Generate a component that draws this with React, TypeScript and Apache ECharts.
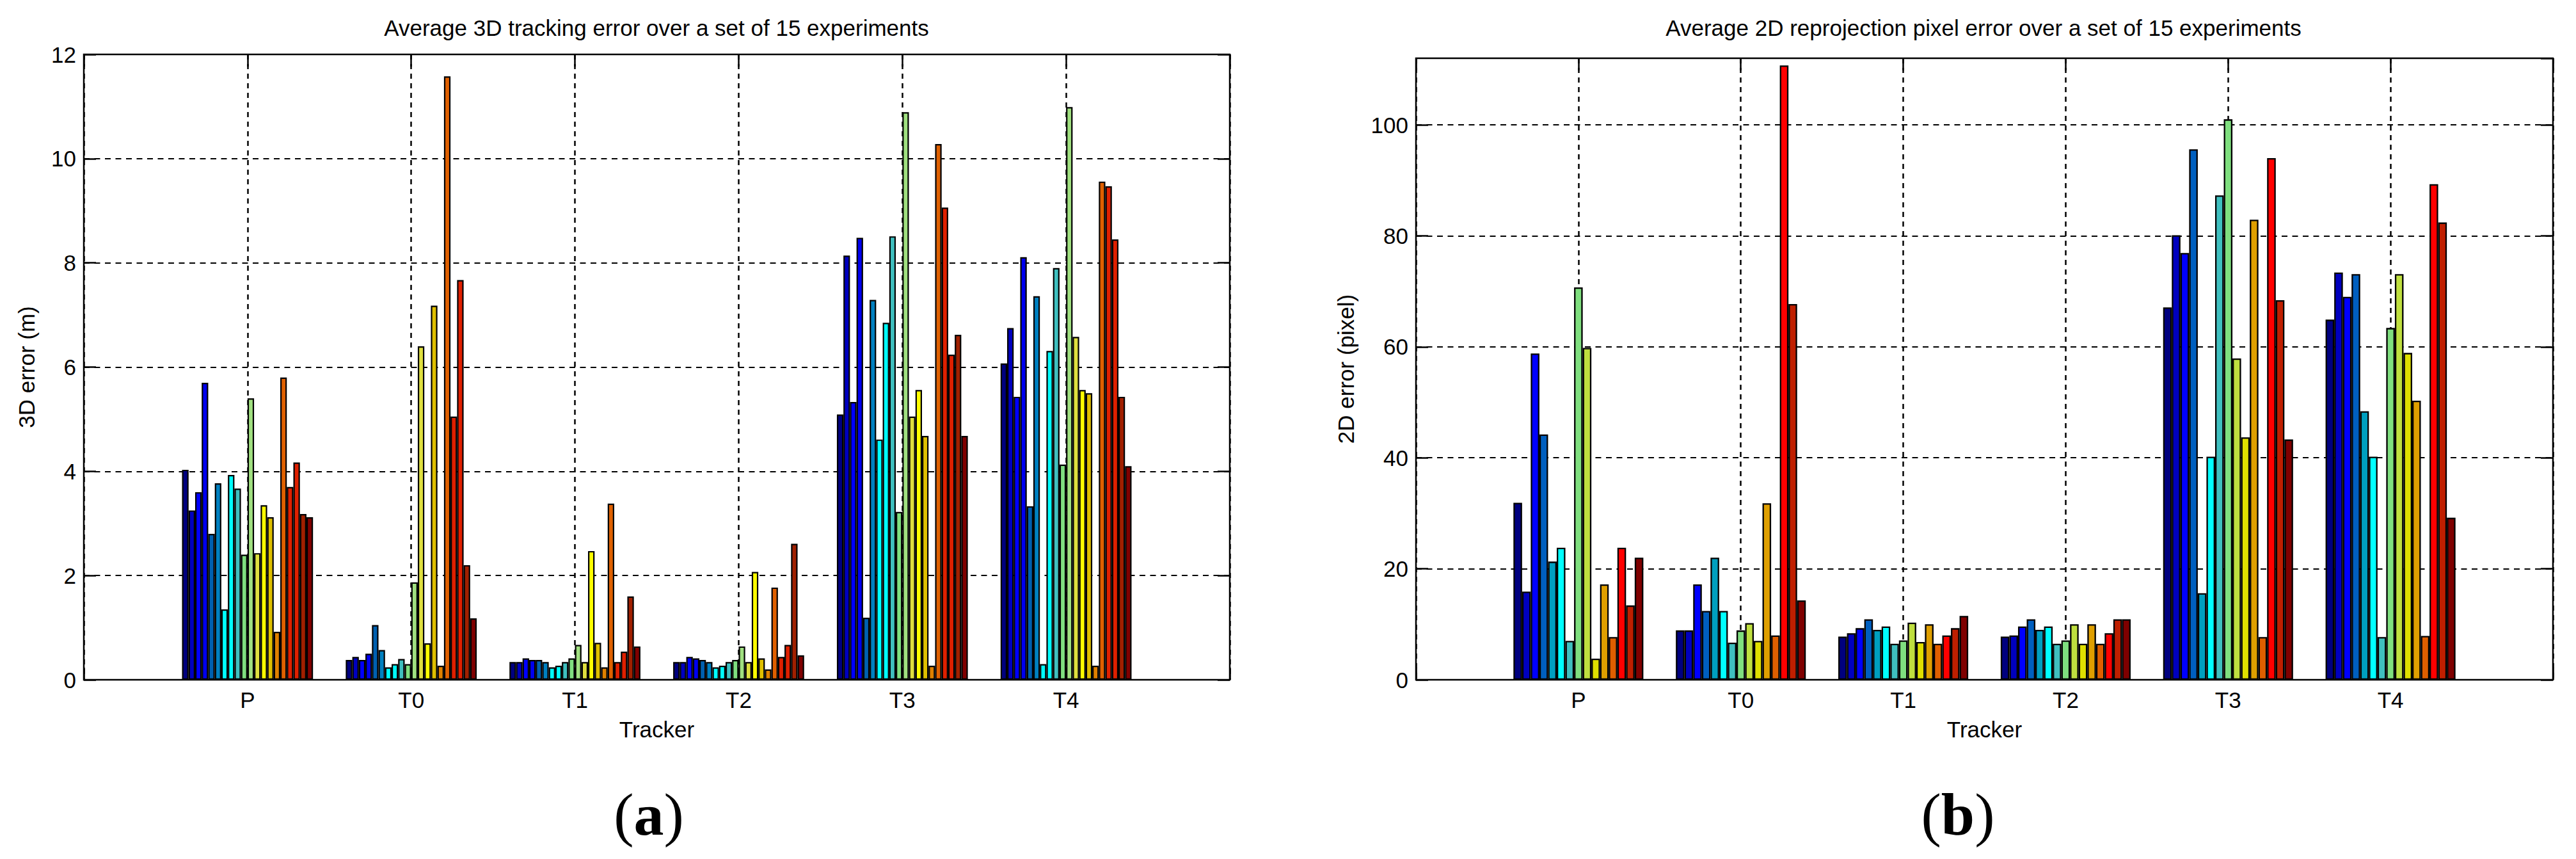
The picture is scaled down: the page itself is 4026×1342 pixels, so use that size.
import React, { useEffect, useRef } from 'react';
import * as echarts from 'echarts';

const trackers = ['P', 'T0', 'T1', 'T2', 'T3', 'T4'];

// 3D error (m), one row per tracker, 20 bars each
const error3dP = [4.03, 3.25, 3.6, 5.7, 2.8, 3.77, 1.35, 3.93, 3.67, 2.4, 5.4, 2.43, 3.35, 3.12, 0.92, 5.8, 3.7, 4.17, 3.18, 3.12];
const error3dT0 = [0.38, 0.44, 0.38, 0.5, 1.05, 0.57, 0.24, 0.3, 0.4, 0.3, 1.87, 6.4, 0.7, 7.18, 0.27, 11.58, 5.05, 7.67, 2.2, 1.18];
const error3dT1 = [0.34, 0.34, 0.41, 0.38, 0.38, 0.34, 0.24, 0.27, 0.34, 0.41, 0.67, 0.34, 2.47, 0.71, 0.24, 3.38, 0.34, 0.54, 1.6, 0.64];
const error3dT2 = [0.34, 0.34, 0.44, 0.41, 0.38, 0.34, 0.24, 0.27, 0.34, 0.38, 0.64, 0.34, 2.07, 0.41, 0.2, 1.77, 0.44, 0.67, 2.61, 0.47];
const error3dT3 = [5.09, 8.14, 5.33, 8.48, 1.19, 7.29, 4.61, 6.85, 8.51, 3.22, 10.89, 5.05, 5.56, 4.68, 0.27, 10.28, 9.06, 6.24, 6.62, 4.68];
const error3dT4 = [6.07, 6.75, 5.43, 8.11, 3.33, 7.36, 0.3, 6.31, 7.9, 4.13, 10.99, 6.58, 5.56, 5.5, 0.27, 9.56, 9.47, 8.45, 5.43, 4.1];
const error3d = [error3dP, error3dT0, error3dT1, error3dT2, error3dT3, error3dT4];

// 2D error (pixel), one row per tracker, 15 bars each
const error2dP = [31.9, 15.9, 58.8, 44.2, 21.3, 23.8, 7, 70.7, 59.8, 3.8, 17.2, 7.7, 23.8, 13.4, 22];
const error2dT0 = [8.9, 8.9, 17.2, 12.4, 22, 12.4, 6.7, 8.9, 10.2, 7, 31.8, 8, 110.7, 67.7, 14.3];
const error2dT1 = [7.8, 8.4, 9.3, 10.9, 9, 9.6, 6.5, 7.1, 10.3, 6.8, 10, 6.5, 8, 9.3, 11.5];
const error2dT2 = [7.8, 8, 9.6, 10.9, 9, 9.6, 6.5, 7.1, 10, 6.5, 10, 6.5, 8.4, 10.9, 10.9];
const error2dT3 = [67.1, 80.1, 76.9, 95.6, 15.6, 40.2, 87.3, 101, 57.9, 43.7, 82.9, 7.7, 94, 68.4, 43.3];
const error2dT4 = [64.9, 73.4, 69, 73.1, 48.4, 40.2, 7.7, 63.4, 73.1, 58.9, 50.3, 7.9, 89.3, 82.4, 29.2];
const error2d = [error2dP, error2dT0, error2dT1, error2dT2, error2dT3, error2dT4];

const colors3d = ['#00007f', '#0000bf', '#0000ff', '#0000ef', '#0060b0', '#0080c0', '#00ffff', '#00ffff', '#3fbfbf', '#7fdf7f', '#a0e080', '#dfdf3f', '#ffff00', '#dfbf00', '#df8000', '#df6000', '#df2000', '#df2000', '#a02000', '#7f0000'];
const colors2d = ['#00007f', '#0000bf', '#0000ff', '#005fbf', '#009fbf', '#00ffff', '#3fbfbf', '#7fdf7f', '#bfdf3f', '#dfdf00', '#df9f00', '#df5f00', '#ff0000', '#bf1f00', '#7f0000'];

const FONT = 'Liberation Sans';
const LABEL_SIZE = 35;

// the axis runs from 0 to 7, so the two ends are empty categories
const axisCategories = [' ', ...trackers, '  '];

const buildSeries = (rows: number[][], colors: string[], axisIndex: number, borderWidth: number) =>
  colors.map((color, i) => ({
    type: 'bar',
    xAxisIndex: axisIndex,
    yAxisIndex: axisIndex,
    data: ['-', ...rows.map(row => row[i]), '-'],
    barGap: 0,
    barCategoryGap: '20%',
    itemStyle: { color, borderColor: '#000', borderWidth },
    emphasis: { disabled: true },
    silent: true,
  }));

const tick = { show: true, inside: true, length: 19, lineStyle: { color: '#000', width: 2.5 } };
const noLine = { show: false, onZero: false };

const xAxes = (gridIndex: number) => [
  {
    type: 'category',
    gridIndex,
    data: axisCategories,
    boundaryGap: false,
    name: 'Tracker',
    nameLocation: 'middle',
    nameGap: 60,
    nameTextStyle: { color: '#000', fontFamily: FONT, fontSize: LABEL_SIZE },
    axisLine: noLine,
    axisTick: { ...tick, interval: 0 },
    axisLabel: { interval: 0, margin: 14, color: '#000', fontFamily: FONT, fontSize: LABEL_SIZE },
    splitLine: { show: true, interval: 0, lineStyle: { color: '#000', width: 2.5, type: [8, 7] } },
  },
  {
    type: 'category',
    gridIndex,
    position: 'top',
    data: axisCategories,
    boundaryGap: false,
    axisLine: noLine,
    axisTick: { ...tick, interval: 0 },
    axisLabel: { show: false },
    splitLine: { show: false },
  },
];

const yAxes = (gridIndex: number, max: number, interval: number, name: string, nameGap: number) => [
  {
    type: 'value',
    gridIndex,
    min: 0,
    max,
    interval,
    name,
    nameLocation: 'middle',
    nameGap,
    nameTextStyle: { color: '#000', fontFamily: FONT, fontSize: LABEL_SIZE },
    axisLine: noLine,
    axisTick: tick,
    axisLabel: { showMaxLabel: max % interval === 0, margin: 12, color: '#000', fontFamily: FONT, fontSize: LABEL_SIZE },
    splitLine: { show: true, lineStyle: { color: '#000', width: 2, type: [9, 7.5] } },
  },
  {
    type: 'value',
    gridIndex,
    position: 'right',
    min: 0,
    max,
    interval,
    axisLine: noLine,
    axisTick: tick,
    axisLabel: { show: false },
    splitLine: { show: false },
  },
];

const chartTitle = (text: string, left: number) => ({
  text,
  left,
  top: 21,
  textAlign: 'center',
  textStyle: { color: '#000', fontFamily: FONT, fontSize: LABEL_SIZE, fontWeight: 'normal' },
});

const panelLabel = (letter: string, left: number) => ({
  text: `{p|(}{b|${letter}}{p|)}`,
  left,
  top: 1220,
  textAlign: 'center',
  textStyle: {
    rich: {
      p: { fontFamily: 'Liberation Serif', fontSize: 94, fontWeight: 'normal', color: '#000' },
      b: { fontFamily: 'Liberation Serif', fontSize: 94, fontWeight: 'bold', color: '#000' },
    },
  },
});

const App: React.FC = () => {
  const chartRef = useRef<HTMLDivElement>(null);

  useEffect(() => {
    document.body.style.margin = '0';
    if (!chartRef.current) return;
    const chart = echarts.init(chartRef.current, undefined, { renderer: 'svg' });

    chart.setOption({
      animation: false,
      backgroundColor: '#fff',
      title: [
        chartTitle('Average 3D tracking error over a set of 15 experiments', 1021),
        chartTitle('Average 2D reprojection pixel error over a set of 15 experiments', 3095),
        panelLabel('a', 1009),
        panelLabel('b', 3055),
      ],
      grid: [
        { left: 131, top: 85, width: 1791, height: 977, show: true, borderColor: '#000', borderWidth: 2.5 },
        { left: 2213, top: 91, width: 1777, height: 971, show: true, borderColor: '#000', borderWidth: 2.5 },
      ],
      xAxis: [...xAxes(0), ...xAxes(1)],
      yAxis: [...yAxes(0, 12, 2, '3D error (m)', 72), ...yAxes(1, 112, 20, '2D error (pixel)', 92)],
      series: [
        ...buildSeries(error3d, colors3d, 0, 2.2),
        ...buildSeries(error2d, colors2d, 2, 2.3),
      ],
    });

    return () => {
      chart.dispose();
    };
  }, []);

  return <div ref={chartRef} style={{ width: 4026, height: 1342 }} />;
};

export default App;
